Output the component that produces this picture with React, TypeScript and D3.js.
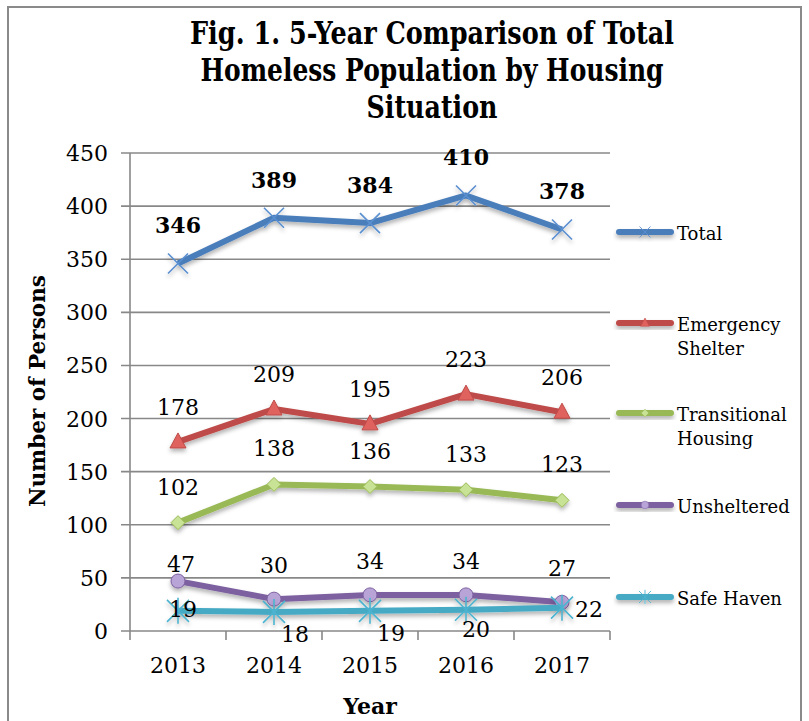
import React from 'react'
import * as d3 from 'd3'

const years = ['2013', '2014', '2015', '2016', '2017']
const total = [346, 389, 384, 410, 378]
const emergency = [178, 209, 195, 223, 206]
const transitional = [102, 138, 136, 133, 123]
const unsheltered = [47, 30, 34, 34, 27]
const safeHaven = [19, 18, 19, 20, 22]
const yTicks = [0, 50, 100, 150, 200, 250, 300, 350, 400, 450]
const titleLines = ['Fig. 1. 5-Year Comparison of Total', 'Homeless Population by Housing', 'Situation']

// label offsets (dx, dy from point) for the lower two series, as placed in the original
const unshelteredLabelDy = [-9, -26, -26, -26, -26]
const safeLabelOff = [[5, 6], [21, 30], [21, 30], [10, 27], [27, 9]]

const serif = '"DejaVu Serif", "Liberation Serif", serif'

const W = 809
const H = 721

type Series = { name: string[]; values: number[]; color: string; marker: string; fill: string }

const series: Series[] = [
  { name: ['Total'], values: total, color: '#4a7ebb', marker: 'x', fill: '#4a7ebb' },
  { name: ['Emergency', 'Shelter'], values: emergency, color: '#be4b48', marker: 'triangle', fill: '#e0625e' },
  { name: ['Transitional', 'Housing'], values: transitional, color: '#98b954', marker: 'diamond', fill: '#c9e396' },
  { name: ['Unsheltered'], values: unsheltered, color: '#7d60a0', marker: 'circle', fill: '#b9a4d8' },
  { name: ['Safe Haven'], values: safeHaven, color: '#46aac5', marker: 'star', fill: '#46aac5' }
]

function Marker({ kind, x, y, color, fill, k = 1 }: { kind: string; x: number; y: number; color: string; fill: string; k?: number }) {
  let shape
  if (kind === 'x') {
    const s = 10
    shape = <path d={`M${-s},${-s}L${s},${s}M${-s},${s}L${s},${-s}`} stroke="#5a8fd0" strokeWidth={1.6} />
  } else if (kind === 'star') {
    const s = 11
    shape = (
      <path d={`M${-s},${-s}L${s},${s}M${-s},${s}L${s},${-s}M0,${-s - 2}L0,${s + 2}`} stroke="#4cb3cf" strokeWidth={1.6} />
    )
  } else if (kind === 'triangle') {
    shape = <path d="M0,-9L8,6L-8,6Z" fill={fill} stroke={color} strokeWidth={1} />
  } else if (kind === 'diamond') {
    shape = <path d="M0,-7L7,0L0,7L-7,0Z" fill={fill} stroke={color} strokeWidth={1} />
  } else {
    shape = <circle r={7} fill={fill} stroke={color} strokeWidth={1} />
  }
  return <g transform={`translate(${x},${y}) scale(${k})`}>{shape}</g>
}

export default function App() {
  const x = d3.scalePoint<string>().domain(years).range([130, 610]).padding(0.5)
  const y = d3.scaleLinear().domain([0, 450]).range([631, 153])
  const band = x.step()
  const line = d3
    .line<number>()
    .x((d, i) => x(years[i]) as number)
    .y(d => y(d))

  const legendY = [232, 323, 413, 505, 597]

  return (
    <svg width={W} height={H} style={{ position: 'absolute', left: 0, top: 0, background: '#fff' }}>
      <defs>
        <filter id="shadow" x="-10%" y="-20%" width="120%" height="160%">
          <feDropShadow dx="0" dy="3" stdDeviation="2" floodColor="#000" floodOpacity="0.3" />
        </filter>
      </defs>
      <rect x={0} y={0} width={W} height={H} fill="#fff" />
      <path d={`M8,${H + 5}L8,7L801,7L801,${H + 5}`} fill="none" stroke="#8a8a8a" strokeWidth={2} />

      {titleLines.map((t, i) => (
        <text
          key={t}
          x={432}
          y={44 + i * 37}
          textAnchor="middle"
          fontFamily={serif}
          fontWeight="bold"
          fontSize={31}
          textLength={[484, 463, 131][i]}
          lengthAdjust="spacingAndGlyphs"
        >
          {t}
        </text>
      ))}

      {/* grid */}
      {yTicks.map(t => (
        <g key={t}>
          <line x1={121} x2={610} y1={y(t)} y2={y(t)} stroke="#888" strokeWidth={1.6} />
          <text x={108} y={y(t) + 8} textAnchor="end" fontFamily={serif} fontSize={22}>
            {t}
          </text>
        </g>
      ))}
      <line x1={130} x2={130} y1={153} y2={640} stroke="#888" strokeWidth={1.6} />
      {years.map((yr, i) => (
        <line key={yr} x1={130 + band * (i + 1)} x2={130 + band * (i + 1)} y1={631} y2={640} stroke="#888" strokeWidth={1.6} />
      ))}
      {years.map(yr => (
        <text key={yr} x={x(yr)} y={673} textAnchor="middle" fontFamily={serif} fontSize={22}>
          {yr}
        </text>
      ))}

      <text x={370} y={714} textAnchor="middle" fontFamily={serif} fontWeight="bold" fontSize={22}>
        Year
      </text>
      <text
        transform="translate(45,391) rotate(-90)"
        textAnchor="middle"
        fontFamily={serif}
        fontWeight="bold"
        fontSize={22}
        textLength={232}
        lengthAdjust="spacingAndGlyphs"
      >
        Number of Persons
      </text>

      {/* series */}
      {series.map(s => (
        <g key={s.name.join(' ')} filter="url(#shadow)">
          <path d={line(s.values) || ''} fill="none" stroke={s.color} strokeWidth={6} strokeLinejoin="round" />
          {s.values.map((v, i) => (
            <Marker key={i} kind={s.marker} x={x(years[i]) as number} y={y(v)} color={s.color} fill={s.fill} />
          ))}
        </g>
      ))}

      {/* data labels */}
      {total.map((v, i) => (
        <text key={'t' + i} x={x(years[i])} y={y(v) - 30} textAnchor="middle" fontFamily={serif} fontWeight="bold" fontSize={22}>
          {v}
        </text>
      ))}
      {emergency.map((v, i) => (
        <text key={'e' + i} x={x(years[i])} y={y(v) - 27} textAnchor="middle" fontFamily={serif} fontSize={22}>
          {v}
        </text>
      ))}
      {transitional.map((v, i) => (
        <text key={'h' + i} x={x(years[i])} y={y(v) - 28} textAnchor="middle" fontFamily={serif} fontSize={22}>
          {v}
        </text>
      ))}
      {unsheltered.map((v, i) => (
        <text
          key={'u' + i}
          x={(x(years[i]) as number) + (i === 0 ? 3 : 0)}
          y={y(v) + unshelteredLabelDy[i]}
          textAnchor="middle"
          fontFamily={serif}
          fontSize={22}
        >
          {v}
        </text>
      ))}
      {safeHaven.map((v, i) => (
        <text
          key={'s' + i}
          x={(x(years[i]) as number) + safeLabelOff[i][0]}
          y={y(v) + safeLabelOff[i][1]}
          textAnchor="middle"
          fontFamily={serif}
          fontSize={22}
        >
          {v}
        </text>
      ))}

      {/* legend */}
      {series.map((s, i) => (
        <g key={'l' + i}>
          <g filter="url(#shadow)">
            <line x1={619} x2={671} y1={legendY[i]} y2={legendY[i]} stroke={s.color} strokeWidth={6} strokeLinecap="round" />
            <Marker kind={s.marker} x={645} y={legendY[i]} color={s.color} fill={s.fill} k={0.55} />
          </g>
          {s.name.map((n, j) => (
            <text key={n} x={677} y={legendY[i] + 8 + j * 24} fontFamily={serif} fontSize={18}>
              {n}
            </text>
          ))}
        </g>
      ))}
    </svg>
  )
}
